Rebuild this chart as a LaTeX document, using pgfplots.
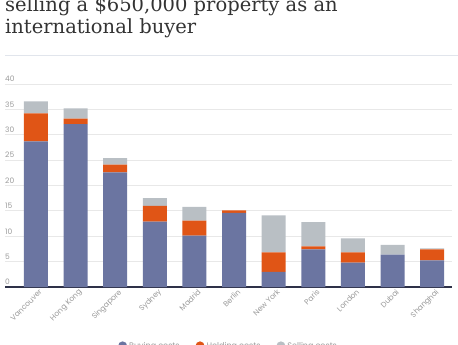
\documentclass[border=0pt]{standalone}
\usepackage{pgfplots}
\pgfplotsset{compat=1.18}
\usepackage{fontspec}
\setmainfont{Poppins}
\newfontfamily\titlefont{DejaVu Serif}
\definecolor{cblue}{HTML}{6B75A1}
\definecolor{corange}{HTML}{E05516}
\definecolor{cgray}{HTML}{B9BFC4}
\definecolor{gridc}{HTML}{E8E8E8}
\definecolor{navy}{HTML}{2E3148}
\definecolor{tickc}{HTML}{9A9A9A}
\definecolor{titlec}{HTML}{333333}
\definecolor{rulec}{HTML}{E1E5EC}
\begin{document}
\begin{tikzpicture}[x=1bp,y=1bp]
\useasboundingbox (0,0) rectangle (458,344);
\node[anchor=base west, inner sep=0pt, text=titlec, font=\titlefont\fontsize{19.5bp}{22bp}\selectfont] at (5,333) {selling a \$650,000 property as an};
\node[anchor=base west, inner sep=0pt, text=titlec, font=\titlefont\fontsize{19.5bp}{22bp}\selectfont] at (5,311) {international buyer};
\draw[rulec, line width=1bp] (5,289) -- (458,289);
\begin{axis}[
  at={(5bp,57bp)}, anchor=south west,
  width=447bp, height=203bp, scale only axis,
  ybar stacked, bar width=24bp,
  xmin=-0.78, xmax=10.5, ymin=0, ymax=40,
  ytick={0,5,...,40},
  xtick={0,...,10},
  xticklabels={Vancouver,Hong Kong,Singapore,Sydney,Madrid,Berlin,New York,Paris,London,Dubai,Shanghai},
  ymajorgrids, grid style={color=gridc, line width=1bp},
  axis line style={draw=none},
  major tick length=0pt,
  /pgf/number format/assume math mode=true,
  yticklabel style={anchor=south west, font=\fontsize{7.5bp}{8bp}\selectfont, text=tickc, inner sep=0pt, yshift=2bp},
  yticklabel pos=left,
  xticklabel style={rotate=45, anchor=north east, font=\fontsize{7.5bp}{8bp}\selectfont, text=tickc, inner sep=1pt, xshift=2bp, yshift=-2bp},
  legend style={at={(0.5,-0.29)}, anchor=center, draw=none, legend columns=3, font=\fontsize{8bp}{9bp}\selectfont, text=tickc, /tikz/every even column/.append style={column sep=14bp}},
  legend image code/.code={\fill[#1, draw=none] (4bp,0bp) circle (4.5bp);},
]
\addplot[fill=cblue, draw=none] coordinates {(0,28.7) (1,32.1) (2,22.6) (3,12.9) (4,10.1) (5,14.6) (6,3.0) (7,7.4) (8,4.8) (9,6.4) (10,5.25)};
\addplot[fill=corange, draw=none] coordinates {(0,5.5) (1,1.1) (2,1.5) (3,3.1) (4,3.0) (5,0.5) (6,3.8) (7,0.6) (8,2.0) (9,0) (10,2.15)};
\addplot[fill=cgray, draw=none] coordinates {(0,2.4) (1,2.0) (2,1.3) (3,1.5) (4,2.7) (5,0) (6,7.3) (7,4.8) (8,2.8) (9,1.9) (10,0.2)};
\legend{Buying costs, Holding costs, Selling costs}
\draw[navy, line width=1.5bp] (rel axis cs:0,0) -- (rel axis cs:1,0);
\end{axis}
\end{tikzpicture}
\end{document}
